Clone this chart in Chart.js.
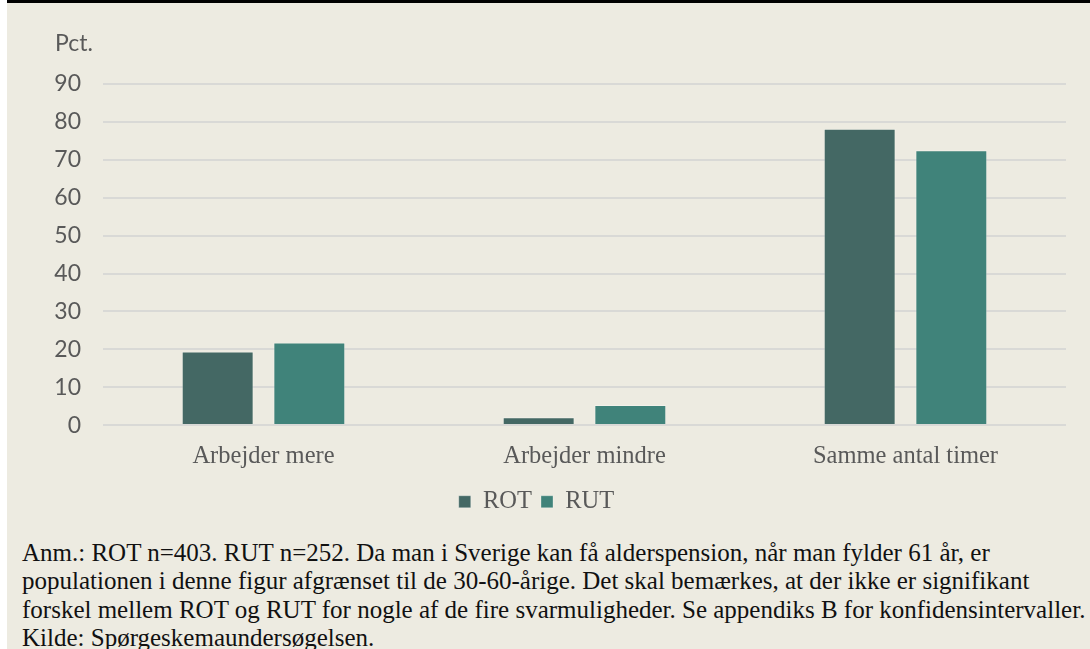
<!DOCTYPE html>
<html>
<head>
<meta charset="utf-8">
<script src="https://cdn.jsdelivr.net/npm/chart.js@4"></script>
<style>
  html, body { margin: 0; padding: 0; background: #ffffff; }
  #ramme {
    position: absolute; left: 7px; top: 0; width: 1083px; height: 649px;
    background: #EDEBE1; border-top: 3px solid #000; box-sizing: border-box;
  }
  #graf { position: absolute; left: 0; top: 0; width: 1083px; height: 525px; }
  #note {
    position: absolute; left: 15px; top: 536px; width: 1075px; white-space: nowrap;
    font-family: "Liberation Serif", serif; font-size: 25px; line-height: 28.3px;
    color: #111;
  }
</style>
</head>
<body>
<div id="ramme">
  <div id="graf"><canvas id="c"></canvas></div>
  <div id="note">Anm.: ROT n=403. RUT n=252. Da man i Sverige kan få alderspension, når man fylder 61 år, er<br>populationen i denne figur afgrænset til de 30-60-årige. Det skal bemærkes, at der ikke er signifikant<br>forskel mellem ROT og RUT for nogle af de fire svarmuligheder. Se appendiks B for konfidensintervaller.<br>Kilde: Spørgeskemaundersøgelsen.</div>
</div>
<script>
// data
const kategorier = ['Arbejder mere', 'Arbejder mindre', 'Samme antal timer'];
const rot = [19.4, 2.1, 78.2];
const rut = [21.8, 5.3, 72.5];
const yTicks = [0, 10, 20, 30, 40, 50, 60, 70, 80, 90];

const tekstFarve = '#595959';
const serif = '"Liberation Serif", serif';
const sans = 'Lato, "Open Sans", sans-serif';

// "Pct." over y-aksen
const pctLabel = {
  id: 'pctLabel',
  afterDraw(chart) {
    const ctx = chart.ctx;
    ctx.save();
    ctx.font = '23px ' + sans;
    ctx.fillStyle = tekstFarve;
    ctx.textBaseline = 'alphabetic';
    ctx.fillText('Pct.', 48, 48);
    ctx.restore();
  }
};

new Chart(document.getElementById('c'), {
  type: 'bar',
  data: {
    labels: kategorier,
    datasets: [
      { label: 'ROT', data: rot, backgroundColor: '#446864', borderColor: 'rgba(255,255,255,0.3)', borderWidth: 1 },
      { label: 'RUT', data: rut, backgroundColor: '#40837A', borderColor: 'rgba(255,255,255,0.3)', borderWidth: 1 }
    ]
  },
  options: {
    responsive: true,
    maintainAspectRatio: false,
    animation: false,
    categoryPercentage: 0.571,
    barPercentage: 0.785,
    layout: { padding: { top: 81, right: 24, left: 0, bottom: 4 } },
    plugins: {
      legend: {
        position: 'bottom',
        labels: {
          boxWidth: 12, boxHeight: 12, padding: 9,
          color: tekstFarve,
          font: { family: serif, size: 24.5 }
        }
      },
      tooltip: { enabled: false }
    },
    scales: {
      x: {
        grid: { display: false },
        border: { display: false },
        ticks: { color: tekstFarve, padding: 9, font: { family: serif, size: 24.5 } }
      },
      y: {
        min: 0, max: 90,
        afterFit: s => { s.width = 96; },
        afterBuildTicks: s => { s.ticks = yTicks.map(v => ({ value: v })); },
        grid: { color: '#D9D9D6', lineWidth: 2, drawTicks: false },
        border: { display: false },
        ticks: { color: tekstFarve, padding: 22, font: { family: sans, size: 23 } }
      }
    }
  },
  plugins: [pctLabel]
});
</script>
</body>
</html>
